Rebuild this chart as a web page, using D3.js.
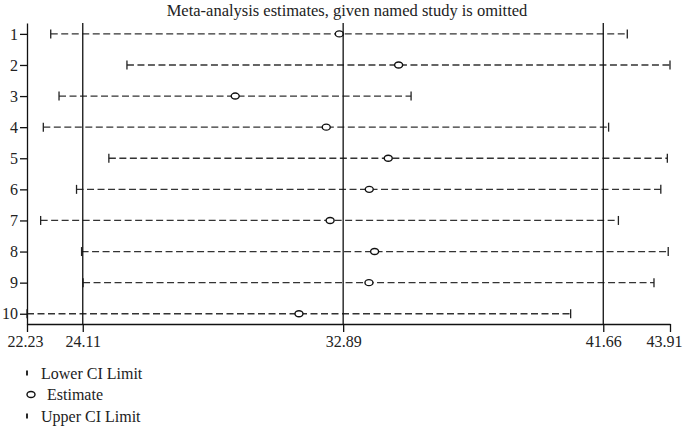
<!DOCTYPE html>
<html>
<head>
<meta charset="utf-8">
<script src="https://cdnjs.cloudflare.com/ajax/libs/d3/7.8.5/d3.min.js"></script>
<style>
  body { margin: 0; background: #fff; }
  text { font-family: "Liberation Serif", "Times New Roman", serif; fill: #222; }
</style>
</head>
<body>
<script>
// study omitted, lower CI, estimate, upper CI
var studies = [1, 2, 3, 4, 5, 6, 7, 8, 9, 10];
var lower    = [23.03, 25.60, 23.31, 22.78, 24.99, 23.90, 22.69, 24.07, 24.12, 22.23];
var estimate = [32.76, 34.76, 29.25, 32.32, 34.41, 33.77, 32.45, 33.95, 33.76, 31.40];
var upper    = [42.47, 43.91, 35.18, 41.84, 43.82, 43.60, 42.17, 43.85, 43.37, 40.56];
var xTicks = [22.23, 24.11, 32.89, 41.66, 43.91];
var refLines = [24.11, 32.89, 41.66];
var legendItems = ["Lower CI Limit", "Estimate", "Upper CI Limit"];

var width = 685, height = 426;

var svg = d3.select("body").append("svg")
    .attr("width", width)
    .attr("height", height);

var x = d3.scaleLinear().domain([22.23, 43.91]).range([27, 670]);
var y = d3.scaleLinear().domain([0.65, 10.33]).range([23, 324]);

svg.append("text")
    .attr("x", 347)
    .attr("y", 16)
    .attr("text-anchor", "middle")
    .style("font-size", "16.5px")
    .text("Meta-analysis estimates, given named study is omitted");

// dashed CI lines
var rows = svg.append("g").selectAll("g")
    .data(studies)
    .enter().append("g");

rows.append("line")
    .attr("x1", (d, i) => x(lower[i]))
    .attr("x2", (d, i) => x(upper[i]))
    .attr("y1", d => y(d))
    .attr("y2", d => y(d))
    .attr("stroke", "#333")
    .attr("stroke-width", 1.3)
    .attr("stroke-dasharray", "7,3.5");

// reference lines
svg.append("g").selectAll("line")
    .data(refLines)
    .enter().append("line")
    .attr("x1", d => x(d))
    .attr("x2", d => x(d))
    .attr("y1", y(0.65))
    .attr("y2", y(10.33))
    .attr("stroke", "#111")
    .attr("stroke-width", 1.3);

// CI end ticks
rows.append("line")
    .attr("x1", (d, i) => x(lower[i]))
    .attr("x2", (d, i) => x(lower[i]))
    .attr("y1", d => y(d) - 4.5)
    .attr("y2", d => y(d) + 4.5)
    .attr("stroke", "#222")
    .attr("stroke-width", 1.3);

rows.append("line")
    .attr("x1", (d, i) => x(upper[i]))
    .attr("x2", (d, i) => x(upper[i]))
    .attr("y1", d => y(d) - 4.5)
    .attr("y2", d => y(d) + 4.5)
    .attr("stroke", "#222")
    .attr("stroke-width", 1.3);

rows.append("ellipse")
    .attr("cx", (d, i) => x(estimate[i]))
    .attr("cy", d => y(d))
    .attr("rx", 4)
    .attr("ry", 3)
    .attr("fill", "#fff")
    .attr("stroke", "#111")
    .attr("stroke-width", 1.4);

// axes
var xAxis = d3.axisBottom(x).tickValues(xTicks).tickFormat(d3.format(".2f")).tickSize(8).tickSizeOuter(0).tickPadding(2);
var gx = svg.append("g").attr("transform", "translate(0," + y(10.33) + ")").call(xAxis);
gx.select(".domain").attr("stroke", "#111").attr("stroke-width", 1.3);
gx.selectAll(".tick line").attr("stroke", "#111").attr("stroke-width", 1.3);
gx.selectAll(".tick text").style("font-size", "16px").attr("dy", "0.8em").attr("fill", "#222")
    .style("font-family", "Liberation Serif, serif")
    .attr("dx", (d, i) => i === xTicks.length - 1 ? -6 : (i === 0 ? -2 : 0));

var yAxis = d3.axisLeft(y).tickValues(studies).tickSize(7).tickSizeOuter(0).tickPadding(2);
var gy = svg.append("g").attr("transform", "translate(" + x(22.23) + ",0)").call(yAxis);
gy.select(".domain").attr("stroke", "#111").attr("stroke-width", 1.3);
gy.selectAll(".tick line").attr("stroke", "#111").attr("stroke-width", 1.3);
gy.selectAll(".tick text").style("font-size", "16px").attr("fill", "#222")
    .style("font-family", "Liberation Serif, serif");

// legend
var legend = svg.append("g").selectAll("g")
    .data(legendItems)
    .enter().append("g")
    .attr("transform", (d, i) => "translate(27," + (373 + i * 21.5) + ")");

legend.filter((d, i) => i !== 1).append("line")
    .attr("x1", 0).attr("x2", 0)
    .attr("y1", -2.5).attr("y2", 2.5)
    .attr("stroke", "#111")
    .attr("stroke-width", 1.8);

legend.filter((d, i) => i === 1).append("ellipse")
    .attr("cx", 4).attr("cy", 0)
    .attr("rx", 4).attr("ry", 3)
    .attr("fill", "#fff")
    .attr("stroke", "#111")
    .attr("stroke-width", 1.4);

legend.append("text")
    .attr("x", (d, i) => i === 1 ? 20 : 14)
    .attr("y", 5.5)
    .style("font-size", "16px")
    .text(d => d);
</script>
</body>
</html>
